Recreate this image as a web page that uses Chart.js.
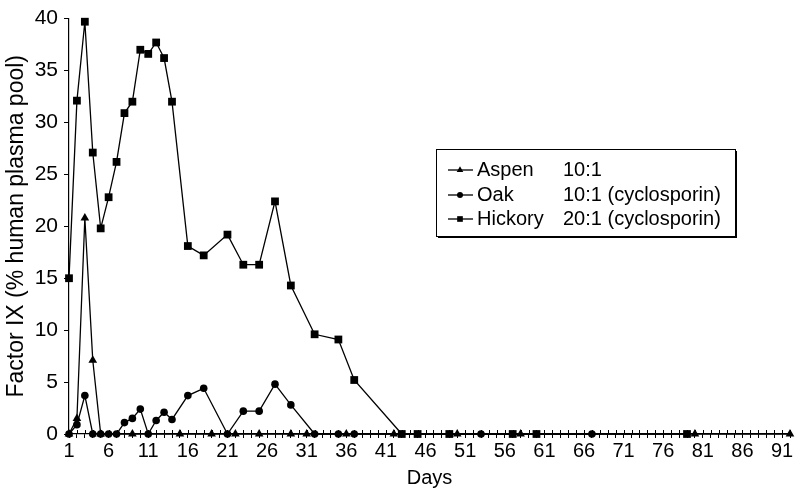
<!DOCTYPE html>
<html>
<head>
<meta charset="utf-8">
<script src="https://cdn.jsdelivr.net/npm/chart.js@4.4.1/dist/chart.umd.min.js"></script>
<style>
  html, body { margin: 0; padding: 0; background: #fff; }
  #wrap { width: 796px; height: 491px; position: relative; }
</style>
</head>
<body>
<div id="wrap"><canvas id="factorChart" width="796" height="491"></canvas></div>
<script>
const aspenDays = [1, 2, 3, 4, 5, 9, 15, 19, 22, 25, 29, 31, 36, 42, 50, 58, 80, 92];
const aspenValues = [0, 1.5, 20.8, 7.1, 0, 0, 0, 0, 0, 0, 0, 0, 0, 0, 0, 0, 0, 0];

const oakDays = [1, 2, 3, 4, 5, 6, 7, 8, 9, 10, 11, 12, 13, 14, 16, 18, 21, 23, 25, 27, 29, 32, 35, 37, 53, 67];
const oakValues = [0, 0.9, 3.7, 0, 0, 0, 0, 1.1, 1.5, 2.4, 0, 1.3, 2.1, 1.4, 3.7, 4.4, 0, 2.2, 2.2, 4.8, 2.8, 0, 0, 0, 0, 0];

const hickoryDays = [1, 2, 3, 4, 5, 6, 7, 8, 9, 10, 11, 12, 13, 14, 16, 18, 21, 23, 25, 27, 29, 32, 35, 37, 43, 45, 49, 57, 60, 79];
const hickoryValues = [15, 32.1, 39.7, 27.1, 19.8, 22.8, 26.2, 30.9, 32, 37, 36.6, 37.7, 36.2, 32, 18.1, 17.2, 19.2, 16.3, 16.3, 22.4, 14.3, 9.6, 9.1, 5.2, 0, 0, 0, 0, 0, 0];

const seriesNames = ['Aspen', 'Oak', 'Hickory'];
const seriesRatios = ['10:1', '10:1 (cyclosporin)', '20:1 (cyclosporin)'];
const yTicks = [0, 5, 10, 15, 20, 25, 30, 35, 40];

const FONT = "'Liberation Sans', Arial, Helvetica, sans-serif";

function toPoints(days, values) {
  return days.map((d, i) => ({ x: d, y: values[i] }));
}

function makeSet(label, days, values, style, radius) {
  return {
    label: label,
    data: toPoints(days, values),
    borderColor: '#000',
    backgroundColor: '#000',
    borderWidth: 1.3,
    pointStyle: style,
    pointRadius: radius,
    pointBorderWidth: 0,
    tension: 0,
    clip: false
  };
}

// day tick marks cross the x axis (the grid only draws them below)
const crossTicks = {
  id: 'crossTicks',
  beforeDatasetsDraw(chart) {
    const ctx = chart.ctx;
    const xs = chart.scales.x;
    const yAxis = chart.chartArea.bottom;
    ctx.save();
    ctx.strokeStyle = '#000';
    ctx.lineWidth = 1;
    ctx.beginPath();
    xs.ticks.forEach(t => {
      const px = Math.round(xs.getPixelForValue(t.value)) + 0.5;
      ctx.moveTo(px, yAxis - 4);
      ctx.lineTo(px, yAxis);
    });
    ctx.stroke();
    ctx.restore();
  }
};

// legend drawn in a box like the original (name column + ratio column)
const boxLegend = {
  id: 'boxLegend',
  afterDraw(chart) {
    const ctx = chart.ctx;
    const left = 436, top = 149, w = 299, h = 87;
    const markerSize = { triangle: 3.8, circle: 3, rect: 4 };
    ctx.save();
    ctx.fillStyle = '#000';
    ctx.fillRect(left + 2, top + 2, w, h);
    ctx.fillStyle = '#fff';
    ctx.fillRect(left, top, w, h);
    ctx.strokeStyle = '#000';
    ctx.lineWidth = 1;
    ctx.strokeRect(left + 0.5, top + 0.5, w, h);
    ctx.font = '20px ' + FONT;
    ctx.textBaseline = 'middle';
    const rowY = [170, 195, 219];
    chart.data.datasets.forEach((ds, i) => {
      const y = rowY[i];
      ctx.strokeStyle = '#000';
      ctx.fillStyle = '#000';
      ctx.lineWidth = 1.3;
      ctx.beginPath();
      ctx.moveTo(448, y);
      ctx.lineTo(473, y);
      ctx.stroke();
      Chart.helpers.drawPoint(ctx, { pointStyle: ds.pointStyle, radius: markerSize[ds.pointStyle], rotation: 0, borderWidth: 0 }, 460, y);
      ctx.fillStyle = '#000';
      ctx.fillText(seriesNames[i], 477, y);
      ctx.fillText(seriesRatios[i], 563, y);
    });
    ctx.restore();
  }
};

function createChart() {
  const ctx = document.getElementById('factorChart').getContext('2d');
  new Chart(ctx, {
    type: 'line',
    data: {
      datasets: [
        makeSet(seriesNames[0], aspenDays, aspenValues, 'triangle', 5),
        makeSet(seriesNames[1], oakDays, oakValues, 'circle', 3.8),
        makeSet(seriesNames[2], hickoryDays, hickoryValues, 'rect', 5.5)
      ]
    },
    options: {
      responsive: false,
      animation: false,
      layout: { padding: { top: 15, right: 6, left: 0, bottom: 0 } },
      plugins: {
        legend: { display: false },
        tooltip: { enabled: false }
      },
      scales: {
        x: {
          type: 'linear',
          min: 1,
          max: 92,
          afterFit: (scale) => { scale.height = 57; },
          border: { display: true, color: '#000', width: 1.2 },
          grid: { display: true, drawOnChartArea: false, drawTicks: true, tickLength: 4, color: '#000', lineWidth: 1 },
          ticks: {
            stepSize: 1,
            autoSkip: false,
            maxRotation: 0,
            padding: 1,
            color: '#000',
            font: { family: FONT, size: 20 },
            callback: (v) => ((v - 1) % 5 === 0 && v <= 91 ? String(v) : '')
          },
          title: { display: true, text: 'Days', color: '#000', font: { family: FONT, size: 20 }, padding: { top: 0, bottom: 1 } }
        },
        y: {
          min: 0,
          max: 40,
          afterFit: (scale) => { scale.width = 69; },
          afterBuildTicks: (scale) => { scale.ticks = yTicks.map(v => ({ value: v })); },
          border: { display: true, color: '#000', width: 1.2 },
          grid: { display: true, drawOnChartArea: false, drawTicks: true, tickLength: 5, color: '#000', lineWidth: 1 },
          ticks: {
            padding: 6,
            color: '#000',
            font: { family: FONT, size: 21 }
          },
          title: { display: true, text: 'Factor IX (% human plasma pool)', color: '#000', font: { family: FONT, size: 23 }, padding: { top: 3, bottom: 0 } }
        }
      }
    },
    plugins: [crossTicks, boxLegend]
  });
}

window.onload = () => {
  createChart();
};
</script>
</body>
</html>
